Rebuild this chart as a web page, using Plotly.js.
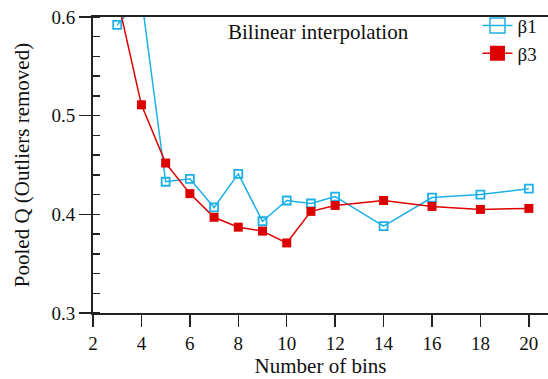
<!DOCTYPE html>
<html>
<head>
<meta charset="utf-8">
<script src="https://cdn.plot.ly/plotly-3.0.1.min.js"></script>
<style>html,body{margin:0;padding:0;background:#fff}#chart{width:548px;height:379px}</style>
</head>
<body>
<div id="chart"></div>
<script>
var bins = [3, 4, 5, 6, 7, 8, 9, 10, 11, 12, 14, 16, 18, 20];
var beta1 = [0.592, 0.62, 0.433, 0.436, 0.407, 0.441, 0.393, 0.414, 0.411, 0.418, 0.388, 0.417, 0.420, 0.426];
var beta3 = [0.62, 0.511, 0.452, 0.421, 0.397, 0.387, 0.383, 0.371, 0.403, 0.409, 0.414, 0.408, 0.405, 0.406];
var seriesNames = ['\u03b21', '\u03b23'];
var xTicks = [2, 4, 6, 8, 10, 12, 14, 16, 18, 20];
var yTicks = [0.3, 0.4, 0.5, 0.6];

var blue = '#1cb0e6';
var red = '#dd0000';
var serif = 'Liberation Serif, Times New Roman, serif';

var traces = [
  {x: bins, y: beta1, type: 'scatter', mode: 'lines+markers', name: seriesNames[0], showlegend: false,
   line: {color: blue, width: 1.5},
   marker: {symbol: 'square-open', size: 8, color: blue, line: {width: 1.8, color: blue}}},
  {x: bins, y: beta3, type: 'scatter', mode: 'lines+markers', name: seriesNames[1], showlegend: false,
   line: {color: red, width: 1.5},
   marker: {symbol: 'square', size: 9, color: red}},
  {x: [null], y: [null], type: 'scatter', mode: 'lines+markers', name: seriesNames[0],
   line: {color: blue, width: 1.5},
   marker: {symbol: 'square-open', size: 15, color: blue, line: {width: 1.5, color: blue}}},
  {x: [null], y: [null], type: 'scatter', mode: 'lines+markers', name: seriesNames[1],
   line: {color: red, width: 1.5},
   marker: {symbol: 'square', size: 15, color: red}}
];

var layout = {
  width: 548, height: 379,
  margin: {l: 93, r: 0, t: 17, b: 66, pad: 0},
  paper_bgcolor: '#fff', plot_bgcolor: '#fff',
  font: {family: serif, size: 19, color: '#111'},
  showlegend: true,
  legend: {x: 0.845, y: 1.035, xanchor: 'left', yanchor: 'top', bgcolor: 'rgba(0,0,0,0)',
           font: {family: serif, size: 19, color: '#111'}, tracegroupgap: 0, itemwidth: 30},
  xaxis: {
    range: [2, 20.79], tickvals: xTicks, ticktext: xTicks.map(String),
    showgrid: false, zeroline: false, showline: true, linecolor: '#222', linewidth: 2, mirror: true,
    ticks: 'outside', ticklen: 12, tickwidth: 1.5, tickcolor: '#222',
    tickfont: {family: serif, size: 19, color: '#111'},
    title: {text: 'Number of bins', font: {family: serif, size: 21, color: '#111'}, standoff: 3}
  },
  yaxis: {
    range: [0.3, 0.6], tickvals: yTicks, ticktext: yTicks.map(function(v){return v.toFixed(1);}),
    showgrid: false, zeroline: false, showline: true, linecolor: '#222', linewidth: 2,
    ticks: 'outside', ticklen: 12, tickwidth: 1.5, tickcolor: '#222',
    minor: {dtick: 0.02, tick0: 0.3, ticks: 'inside', ticklen: 7, tickwidth: 1.5, tickcolor: '#222', showgrid: false},
    tickfont: {family: serif, size: 19, color: '#111'},
    title: {text: 'Pooled Q (Outliers removed)', font: {family: serif, size: 21, color: '#111'}, standoff: 16}
  },
  annotations: [
    {text: 'Bilinear interpolation', xref: 'paper', yref: 'paper', x: 0.495, y: 0.95,
     xanchor: 'center', yanchor: 'middle', showarrow: false,
     font: {family: serif, size: 21, color: '#111'}}
  ]
};

Plotly.newPlot('chart', traces, layout, {displayModeBar: false, staticPlot: true});
</script>
</body>
</html>
